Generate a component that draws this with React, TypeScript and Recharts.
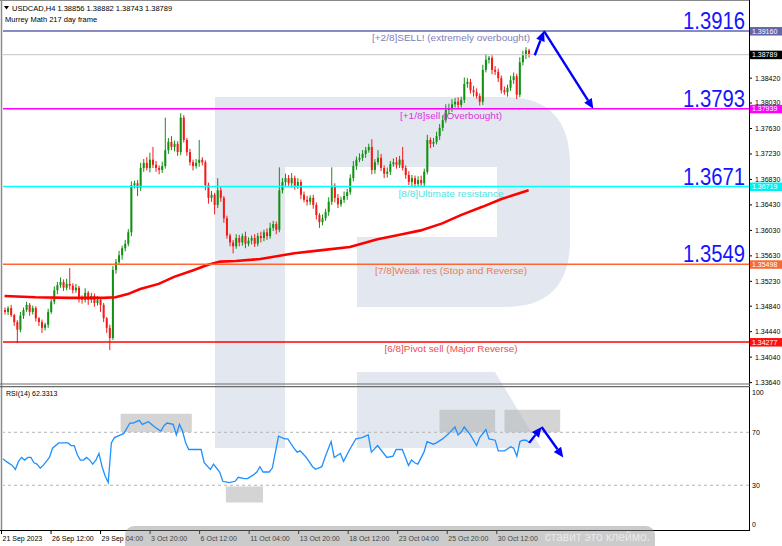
import React from 'react'
import { ComposedChart, Bar, Line, XAxis, YAxis, ReferenceLine, ReferenceArea } from 'recharts'

// USDCAD H4 closes, one per bar (21 Sep 20:00 .. 1 Nov)
const firstOpen = 1.3478
const closes = [
  1.3475, 1.3481, 1.347, 1.3459, 1.3447, 1.3469, 1.3478, 1.3486, 1.3475, 1.3481,
  1.3465, 1.3459, 1.345, 1.3455, 1.3475, 1.3491, 1.3509, 1.3517, 1.3522, 1.3513,
  1.3519, 1.3516, 1.3509, 1.3513, 1.3497, 1.3494, 1.3505, 1.3494, 1.35, 1.3489,
  1.3494, 1.3486, 1.3465, 1.345, 1.3434, 1.3541, 1.3553, 1.3564, 1.3575, 1.3582,
  1.36, 1.3674, 1.3677, 1.367, 1.3701, 1.3709, 1.3701, 1.3714, 1.3706, 1.3701,
  1.3698, 1.3704, 1.3729, 1.3742, 1.3734, 1.3739, 1.3726, 1.378, 1.3745, 1.3726,
  1.371, 1.3704, 1.3709, 1.3714, 1.371, 1.3674, 1.3654, 1.3659, 1.3643, 1.3666,
  1.3654, 1.3622, 1.3595, 1.3584, 1.3578, 1.3591, 1.3584, 1.3594, 1.3582, 1.3587,
  1.3591, 1.3582, 1.3594, 1.3591, 1.36, 1.3594, 1.3607, 1.3613, 1.3604, 1.3666,
  1.3679, 1.3685, 1.3677, 1.3685, 1.3673, 1.3679, 1.3659, 1.3651, 1.3648, 1.3654,
  1.3643, 1.3627, 1.3616, 1.3622, 1.3632, 1.3648, 1.3673, 1.3654, 1.3644, 1.3651,
  1.3657, 1.3663, 1.3685, 1.3704, 1.3714, 1.3717, 1.3723, 1.3729, 1.3734, 1.3698,
  1.371, 1.3717, 1.3701, 1.3692, 1.3695, 1.3707, 1.371, 1.3706, 1.3714, 1.3701,
  1.369, 1.3679, 1.3685, 1.3676, 1.3682, 1.3677, 1.3695, 1.3745, 1.3739, 1.3742,
  1.3751, 1.3764, 1.3776, 1.3792, 1.3795, 1.3801, 1.3805, 1.38, 1.3808, 1.3833,
  1.3836, 1.3823, 1.382, 1.3814, 1.3805, 1.3855, 1.3871, 1.3874, 1.3855, 1.3852,
  1.3842, 1.3823, 1.382, 1.3827, 1.3839, 1.3845, 1.3816, 1.3867, 1.3878, 1.38856,
  1.38789,
]
// wick lengths above / below the body, in points (0.00001)
const wickUp = [
  40, 30, 50, 20, 30, 60, 40, 50, 30, 40, 30, 20, 40, 30, 50, 40, 60, 50, 70, 40,
  80, 250, 40, 60, 30, 40, 70, 30, 50, 40, 60, 40, 30, 20, 50, 60, 50, 70, 40, 60,
  50, 60, 40, 50, 80, 60, 90, 110, 200, 60, 40, 70, 510, 60, 90, 50, 40, 70, 40, 30,
  50, 40, 60, 310, 40, 30, 40, 60, 30, 190, 50, 30, 40, 30, 40, 60, 50, 40, 70, 50,
  40, 60, 50, 70, 40, 60, 80, 50, 40, 360, 60, 70, 50, 80, 40, 60, 40, 50, 60, 40,
  50, 40, 30, 60, 50, 70, 290, 40, 60, 50, 70, 50, 60, 80, 50, 70, 60, 50, 50, 120,
  50, 120, 60, 40, 70, 50, 60, 80, 60, 200, 40, 60, 50, 40, 60, 70, 50, 80, 40, 60,
  70, 60, 80, 90, 70, 80, 60, 70, 50, 100, 60, 50, 70, 60, 40, 80, 90, 30, 40, 60,
  50, 40, 60, 50, 70, 60, 40, 80, 70, 50, 26,
]
const wickDn = [
  40, 50, 30, 60, 210, 40, 50, 30, 60, 40, 50, 60, 80, 40, 50, 30, 40, 60, 40, 50,
  40, 60, 50, 40, 70, 60, 40, 80, 50, 60, 40, 110, 60, 80, 190, 30, 60, 40, 70, 50,
  40, 60, 50, 130, 50, 60, 40, 70, 50, 60, 70, 50, 40, 60, 50, 70, 60, 50, 40, 60,
  50, 70, 40, 60, 50, 80, 90, 60, 150, 50, 60, 70, 50, 60, 110, 40, 60, 50, 70, 40,
  60, 50, 40, 70, 50, 60, 40, 50, 70, 40, 50, 60, 40, 70, 60, 50, 70, 40, 60, 50,
  60, 70, 90, 50, 40, 60, 50, 70, 60, 40, 50, 60, 40, 50, 60, 40, 50, 60, 40, 70,
  60, 40, 50, 70, 60, 50, 40, 60, 50, 40, 60, 50, 70, 60, 50, 40, 60, 40, 70, 50,
  40, 60, 50, 40, 70, 60, 50, 60, 40, 50, 60, 50, 70, 40, 60, 50, 40, 60, 70, 50,
  60, 50, 40, 70, 50, 60, 70, 40, 50, 60, 46,
]

// 217 period moving average, read at a few bars
const maBars = [0, 10, 21, 32, 36, 40, 44, 50, 55, 61, 66, 70, 75, 83, 94, 103, 112, 121, 129, 135, 142, 148, 155, 161, 170]
const maValues = [
  1.35, 1.3498, 1.3497, 1.3497, 1.3498, 1.3503, 1.3511, 1.3519, 1.353, 1.354, 1.3549, 1.3554, 1.3555,
  1.3558, 1.3567, 1.3572, 1.3577, 1.3589, 1.3597, 1.3603, 1.3614, 1.3627, 1.364, 1.3652, 1.3666,
]

// RSI(14)
const rsiBars = [
  0, 1, 3, 4, 5, 6, 7, 8, 9, 10, 11, 12, 13, 15, 16, 18, 21, 22, 23, 24,
  25, 26, 27, 28, 29, 30, 31, 32, 33, 34, 35, 36, 38, 39, 41, 42, 44, 45, 47, 49,
  51, 52, 53, 55, 56, 57, 58, 59, 60, 62, 64, 65, 67, 68, 70, 71, 73, 75, 76, 78,
  79, 81, 82, 83, 84, 86, 87, 88, 89, 91, 92, 94, 95, 96, 98, 100, 101, 103, 104, 106,
  107, 109, 110, 112, 114, 116, 118, 119, 121, 122, 124, 126, 127, 129, 130, 131, 132, 133, 134, 136,
  137, 139, 140, 142, 144, 146, 147, 148, 149, 151, 153, 154, 156, 157, 159, 160, 162, 164, 165, 166,
  167, 168, 169, 170,
]
const rsiValues = [
  50, 48, 45, 42, 48, 51, 49, 51, 51, 47, 46, 43, 45, 51, 58, 62, 62, 60, 60, 53,
  49, 49, 51, 49, 46, 49, 54, 44, 37, 32, 62, 66, 68, 69, 77, 77, 79, 76, 78, 74,
  71, 75, 77, 76, 68, 76, 71, 62, 57, 57, 57, 47, 42, 46, 40, 33, 32, 33, 36, 35,
  35, 38, 40, 44, 40, 40, 43, 55, 67, 65, 65, 58, 55, 56, 51, 44, 42, 44, 51, 63,
  51, 54, 48, 57, 65, 66, 68, 55, 60, 57, 51, 52, 57, 57, 51, 45, 49, 47, 46, 55,
  63, 61, 62, 65, 69, 74, 68, 70, 74, 68, 60, 66, 72, 65, 64, 56, 56, 59, 58, 52,
  63, 64, 64, 62.33,
]

const timeIdx = [0, 16, 32, 48, 64, 80, 96, 112, 128, 144, 160]
const timeLabels = [
  '21 Sep 2023', '26 Sep 12:00', '29 Sep 04:00', '3 Oct 20:00', '6 Oct 12:00', '11 Oct 04:00',
  '13 Oct 20:00', '18 Oct 12:00', '23 Oct 04:00', '25 Oct 20:00', '30 Oct 12:00',
]
// 1.38810 and 1.39200 sit behind the level tags, so they are left out
const priceTicks = [1.3364, 1.3404, 1.3444, 1.3484, 1.3523, 1.3563, 1.3603, 1.3643, 1.3683, 1.3723, 1.3763, 1.3803, 1.3842]
const rsiTicks = [0, 30, 70, 100]

// Murrey Math levels
const levelValues = [1.3916, 1.37939, 1.36719, 1.35498, 1.34277]
const levelBig = ['1.3916', '1.3793', '1.3671', '1.3549', '']
const levelTags = ['1.39160', '1.37939', '1.36719', '1.35498', '1.34277']
const levelNames = [
  '[+2/8]SELL! (extremely overbought)',
  '[+1/8]sell (Overbought)',
  '[8/8]Ultimate resistance',
  '[7/8]Weak res (Stop and Reverse)',
  '[6/8]Pivot sell (Major Reverse)',
]
const levelStyle = [
  { line: '#6262b0', tag: '#6464a8', text: '#8080b8', w: 158 },
  { line: '#ff00ff', tag: '#ff00ff', text: '#e030e0', w: 102 },
  { line: '#00ffff', tag: '#00f0f0', text: '#50e4e4', w: 105 },
  { line: '#ff6633', tag: '#fa6a38', text: '#ee7a55', w: 152 },
  { line: '#ff0000', tag: '#ff1010', text: '#ea5050', w: 133 },
]

// arrows: [fromBar, fromValue, toBar, toValue]
const priceArrows = [
  [172, 1.3878, 175, 1.3916],
  [175, 1.3916, 191, 1.37939],
]
const rsiArrows = [
  [170, 62, 174, 74],
  [174, 74, 181, 51],
]
const rsiBoxes = [
  [38, 61, 70, 84],
  [72, 84, 17, 29],
  [141, 159, 70, 87],
  [162, 180, 70, 87],
]

const SLOTS = 242
const FONT = "'Liberation Sans', Arial, sans-serif"
const UP = '#119011'
const DOWN = '#f41a1a'

const rows: any[] = Array.from({ length: SLOTS }, (_, i) => {
  if (i < closes.length) {
    const o = i === 0 ? firstOpen : closes[i - 1]
    const c = closes[i]
    const h = Math.max(o, c) + wickUp[i] / 1e5
    const l = Math.min(o, c) - wickDn[i] / 1e5
    return { i, o, c, h, l, range: [l, h], ma: null, rsi: null }
  }
  return { i, range: null, ma: null, rsi: null }
})
maBars.forEach((b, k) => (rows[b].ma = maValues[k]))
rsiBars.forEach((b, k) => (rows[b].rsi = rsiValues[k]))
const lastClose = closes[closes.length - 1]

function Candle(props: any) {
  const { x, y, width, height, payload } = props
  if (!payload || payload.h == null || !height) return null
  const { o, c, h, l } = payload
  const k = height / (h - l)
  const py = (v: number) => y + (h - v) * k
  const color = c >= o ? UP : DOWN
  const top = py(Math.max(o, c))
  const bot = py(Math.min(o, c))
  const cx = x + width / 2
  return (
    <g>
      <line x1={cx} x2={cx} y1={y} y2={y + height} stroke={color} strokeWidth={1} />
      <rect x={x} y={top} width={width} height={Math.max(bot - top, 1)} fill={color} />
    </g>
  )
}

function Arrow(props: any) {
  const { x1, y1, x2, y2 } = props
  const a = Math.atan2(y2 - y1, x2 - x1)
  const len = 10
  const half = 4.5
  const bx = x2 - len * Math.cos(a)
  const by = y2 - len * Math.sin(a)
  const px = -Math.sin(a) * half
  const py = Math.cos(a) * half
  return (
    <g>
      <line x1={x1} y1={y1} x2={bx} y2={by} stroke="#0000ff" strokeWidth={2.4} />
      <polygon points={`${x2},${y2} ${bx + px},${by + py} ${bx - px},${by - py}`} fill="#0000ff" />
    </g>
  )
}

function LevelLabel(props: any) {
  const { viewBox, k } = props
  if (!viewBox) return null
  const { x, y, width } = viewBox
  const st = levelStyle[k]
  return (
    <g fontFamily={FONT}>
      {levelBig[k] && (
        <text x={x + width - 4} y={y - 2} textAnchor="end" fontSize={23} fill="#1414ff"
          textLength={62} lengthAdjust="spacingAndGlyphs">
          {levelBig[k]}
        </text>
      )}
      <text x={x + 448} y={y + 10} textAnchor="middle" fontSize={9.5} fill={st.text}
        textLength={st.w} lengthAdjust="spacingAndGlyphs">
        {levelNames[k]}
      </text>
      <rect x={x + width + 1} y={y - 4} width={32} height={8.5} fill={st.tag} />
      <text x={x + width + 3} y={y + 2.6} fontSize={7} fill="#fff">{levelTags[k]}</text>
    </g>
  )
}

function PriceTag(props: any) {
  const { viewBox } = props
  if (!viewBox) return null
  const { x, y, width } = viewBox
  return (
    <g fontFamily={FONT}>
      <rect x={x + width + 1} y={y - 4} width={32} height={8.5} fill="#000" />
      <text x={x + width + 3} y={y + 2.6} fontSize={7} fill="#fff">{lastClose.toFixed(5)}</text>
    </g>
  )
}

function TimeTick(props: any) {
  const { x, y, payload } = props
  const k = timeIdx.indexOf(payload.value)
  if (k < 0) return null
  const left = x - 1.5
  return (
    <g>
      <line x1={left} x2={left} y1={y} y2={y + 4} stroke="#000" />
      <text x={left + 1} y={y + 11} fontSize={7} fontFamily={FONT} fill="#000">{timeLabels[k]}</text>
    </g>
  )
}

function Watermark() {
  return (
    <svg width={782} height={546} style={{ position: 'absolute', left: 0, top: 0 }}>
      <path
        d="M215,97 H505 Q570,97 570,165 V240 Q570,307 505,307 H357 V237 H497 V167 H285 V448 H215 Z"
        fill="#e3e8f0"
      />
      <path d="M357,372 H495 L541,448 H357 Z" fill="#e3e8f0" />
    </svg>
  )
}

function Frame() {
  return (
    <svg width={782} height={546} style={{ position: 'absolute', left: 0, top: 0, pointerEvents: 'none' }}
      fontFamily={FONT}>
      <line x1={0} x2={749} y1={0.5} y2={0.5} stroke="#8a8a8a" />
      <line x1={1.5} x2={1.5} y1={0} y2={530} stroke="#8a8a8a" strokeWidth={1.5} />
      <line x1={749.5} x2={749.5} y1={0} y2={531} stroke="#000" />
      <line x1={0} x2={750} y1={384} y2={384} stroke="#6a6a6a" strokeWidth={1.2} />
      <line x1={0} x2={750} y1={386.6} y2={386.6} stroke="#6a6a6a" strokeWidth={1.2} />
      <line x1={0} x2={750} y1={530.5} y2={530.5} stroke="#000" />
      <polygon points="4,6 9,6 6.5,9.5" fill="#000" />
      <text x={12} y={10.5} fontSize={7.5} fill="#000">USDCAD,H4  1.38856 1.38882 1.38743 1.38789</text>
      <text x={5} y={21.5} fontSize={7.5} fill="#000">Murrey Math 217 day frame</text>
      <text x={6} y={396} fontSize={7} fill="#000">RSI(14) 62.3313</text>
      <rect x={125} y={526} width={530} height={30} rx={9} fill="#8c8c8c" fillOpacity={0.45} />
      <text x={650} y={541} textAnchor="end" fontSize={12} fill="#f2f2f2" fillOpacity={0.8}>
        ставит это клеймо.
      </text>
    </svg>
  )
}

export default function App() {
  return (
    <div style={{ position: 'absolute', left: 0, top: 0, width: 782, height: 546, background: '#fff', overflow: 'hidden' }}>
      <Watermark />
      <div style={{ position: 'absolute', left: 0, top: 0 }}>
        <ComposedChart width={782} height={386} data={rows} margin={{ top: 2, right: 0, left: 3, bottom: 3 }}
          barCategoryGap={0}>
          <XAxis dataKey="i" type="category" hide />
          <YAxis
            orientation="right"
            width={33}
            domain={[1.33634, 1.39616]}
            allowDataOverflow
            ticks={priceTicks}
            interval={0}
            tickFormatter={(v: number) => v.toFixed(5)}
            tick={{ fontSize: 7, fill: '#000', fontFamily: FONT }}
            tickSize={3}
            tickMargin={3}
            tickLine={{ stroke: '#000' }}
            axisLine={false}
          />
          <Bar dataKey="range" barSize={2} shape={<Candle />} isAnimationActive={false} />
          <Line dataKey="ma" type="linear" stroke="#ff0000" strokeWidth={2.6} dot={false} connectNulls
            isAnimationActive={false} />
          <ReferenceLine y={lastClose} stroke="#c4c4c4" strokeWidth={1} label={<PriceTag />} />
          {levelValues.map((v, k) => (
            <ReferenceLine key={k} y={v} stroke={levelStyle[k].line} strokeWidth={1.6}
              label={<LevelLabel k={k} />} />
          ))}
          {priceArrows.map((a, k) => (
            <ReferenceLine key={'a' + k} segment={[{ x: a[0], y: a[1] }, { x: a[2], y: a[3] }]}
              shape={<Arrow />} ifOverflow="visible" />
          ))}
        </ComposedChart>
      </div>
      <div style={{ position: 'absolute', left: 0, top: 386 }}>
        <ComposedChart width={782} height={160} data={rows} margin={{ top: 3, right: 0, left: 3, bottom: 0 }}>
          <XAxis
            dataKey="i"
            type="category"
            ticks={timeIdx}
            interval={0}
            height={16}
            tick={<TimeTick />}
            tickSize={0}
            tickMargin={0}
            axisLine={false}
            tickLine={false}
          />
          <YAxis
            orientation="right"
            width={33}
            domain={[-3.8, 102.7]}
            allowDataOverflow
            ticks={rsiTicks}
            interval={0}
            tick={{ fontSize: 7, fill: '#000', fontFamily: FONT }}
            tickSize={0}
            tickMargin={3}
            tickLine={false}
            axisLine={false}
          />
          {rsiBoxes.map((b, k) => (
            <ReferenceArea key={'b' + k} x1={b[0]} x2={b[1]} y1={b[2]} y2={b[3]} fill="#b0b0b0"
              fillOpacity={0.55} stroke="none" />
          ))}
          <ReferenceLine y={70} stroke="#b4b4b4" strokeDasharray="3 3" />
          <ReferenceLine y={30} stroke="#b4b4b4" strokeDasharray="3 3" />
          <Line dataKey="rsi" type="linear" stroke="#1e90ff" strokeWidth={1.3} dot={false} connectNulls
            isAnimationActive={false} />
          {rsiArrows.map((a, k) => (
            <ReferenceLine key={'r' + k} segment={[{ x: a[0], y: a[1] }, { x: a[2], y: a[3] }]}
              shape={<Arrow />} ifOverflow="visible" />
          ))}
        </ComposedChart>
      </div>
      <Frame />
    </div>
  )
}
